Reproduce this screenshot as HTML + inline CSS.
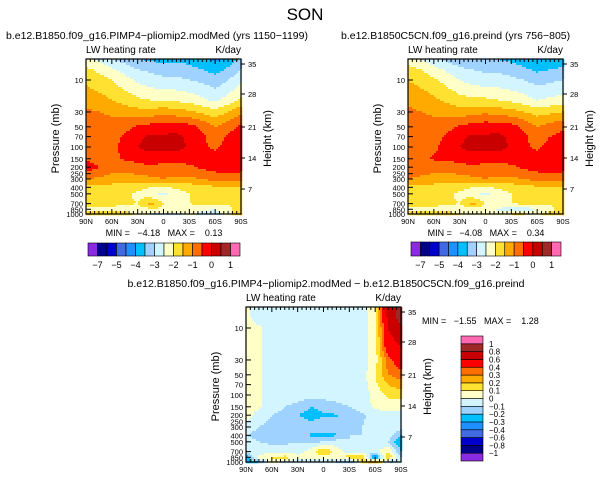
<!DOCTYPE html>
<html><head><meta charset="utf-8"><style>
body{margin:0;background:#fff;width:611px;height:481px;overflow:hidden}
svg{font-family:"Liberation Sans",sans-serif}
</style></head><body>
<svg id="s" width="611" height="481" xmlns="http://www.w3.org/2000/svg">
<text x="305" y="20" font-size="17" text-anchor="middle">SON</text>
</svg>
<script>
const lats=["90N","60N","30N","0","30S","60S","90S"];
const presLevels=[5,7,10,20,30,50,70,100,150,200,300,400,500,700,850,1000];
const pTicks=[10,30,50,70,100,150,200,250,300,400,500,700,850,1000];
const zTicks=[35,28,21,14,7];
const zOff=[5,35,68,99,130];
const levelsAbs=[-7,-6,-5,-4.5,-4,-3.5,-3,-2.5,-2,-1.5,-1,-0.5,0,0.5,1];
const levelsAbsLabels=["-7","","-5","","-4","","-3","","-2","","-1","","0","","1"];
const levelsDiff=[-1,-0.8,-0.6,-0.4,-0.3,-0.2,-0.1,0,0.1,0.2,0.3,0.4,0.6,0.8,1];
const colors=["#8a2be2","#00008b","#0000cd","#4169e1","#1e90ff","#00bfff","#a0d2ff","#d2f5ff","#ffffc8","#ffe132","#ffaa00","#ff6e00","#ff0000","#c80000","#a02828","#ff69b4"];
const fieldA=[
[-2.3,-2.6,-2.9,-3.2,-3.4,-3.6,-3.6,-3.6,-3.7,-3.9,-4.1,-3.8,-3.4],
[-1.9,-2.1,-2.4,-2.7,-3.0,-3.1,-3.2,-3.2,-3.3,-3.5,-3.7,-3.4,-3.0],
[-1.6,-1.8,-2.0,-2.3,-2.6,-2.8,-2.9,-2.9,-3.0,-3.1,-3.3,-3.0,-2.6],
[-1.2,-1.3,-1.5,-1.7,-1.9,-2.0,-2.0,-2.1,-2.2,-2.4,-2.6,-2.3,-1.9],
[-0.9,-1.0,-1.1,-1.2,-1.3,-1.3,-1.2,-1.3,-1.4,-1.6,-1.8,-1.5,-1.1],
[-0.6,-0.7,-0.8,-0.7,-0.4,-0.3,-0.2,-0.2,-0.3,-0.6,-1.0,-0.7,-0.4],
[-0.6,-0.7,-0.7,-0.4,-0.1,0.1,0.05,0.12,-0.1,-0.4,-0.8,-0.4,-0.2],
[-0.6,-0.7,-0.7,-0.3,0.0,0.15,0.1,0.15,-0.05,-0.4,-0.6,-0.3,-0.2],
[-0.6,-0.7,-0.6,-0.45,-0.3,-0.2,-0.3,-0.3,-0.3,-0.3,-0.3,-0.2,-0.2],
[-0.2,-0.5,-0.8,-0.8,-0.7,-0.6,-0.7,-0.7,-0.6,-0.4,-0.3,-0.3,-0.3],
[-1.0,-1.1,-1.2,-1.2,-1.2,-1.1,-1.0,-1.1,-1.1,-1.0,-0.8,-0.7,-0.8],
[-1.6,-1.6,-1.7,-1.8,-1.8,-2.0,-2.1,-1.9,-1.8,-1.7,-1.6,-1.6,-1.6],
[-1.8,-1.8,-1.8,-1.9,-2.1,-2.4,-2.6,-2.3,-2.0,-1.8,-1.8,-1.8,-1.8],
[-1.8,-1.8,-1.8,-1.9,-2.0,-1.3,-2.0,-2.1,-2.0,-1.9,-1.8,-1.9,-1.8],
[-2.2,-2.1,-2.2,-2.3,-2.3,-2.1,-2.1,-2.2,-2.3,-2.4,-2.5,-2.2,-1.6],
[-1.4,-1.8,-1.8,-1.6,-2.3,-2.5,-2.7,-2.6,-2.4,-2.6,-2.8,-2.3,-1.5]];
const fieldB=[
[-2.2,-2.5,-2.8,-3.1,-3.3,-3.5,-3.5,-3.5,-3.6,-3.8,-4.0,-3.9,-3.8],
[-1.8,-2.0,-2.3,-2.6,-2.9,-3.0,-3.1,-3.1,-3.2,-3.4,-3.6,-3.5,-3.4],
[-1.5,-1.7,-1.9,-2.2,-2.5,-2.7,-2.8,-2.8,-2.9,-3.0,-3.2,-3.1,-3.0],
[-1.1,-1.2,-1.4,-1.6,-1.8,-1.9,-1.9,-2.0,-2.1,-2.3,-2.5,-2.4,-2.3],
[-0.9,-1.0,-1.1,-1.2,-1.3,-1.2,-1.1,-1.2,-1.3,-1.5,-1.7,-1.6,-1.5],
[-0.6,-0.7,-0.8,-0.7,-0.4,-0.3,-0.2,-0.2,-0.3,-0.6,-1.0,-0.8,-0.6],
[-0.6,-0.7,-0.7,-0.4,-0.1,0.1,0.05,0.12,-0.1,-0.4,-0.8,-0.5,-0.3],
[-0.6,-0.7,-0.6,-0.3,0.0,0.15,0.1,0.15,-0.05,-0.4,-0.6,-0.3,-0.2],
[-0.6,-0.6,-0.45,-0.4,-0.3,-0.2,-0.3,-0.3,-0.3,-0.3,-0.3,-0.2,-0.2],
[-0.7,-0.7,-0.8,-0.8,-0.7,-0.6,-0.7,-0.7,-0.6,-0.4,-0.3,-0.3,-0.3],
[-1.0,-1.1,-1.2,-1.2,-1.2,-1.1,-1.0,-1.1,-1.1,-1.0,-0.8,-0.7,-0.8],
[-1.6,-1.6,-1.7,-1.8,-1.8,-2.0,-2.1,-1.9,-1.8,-1.7,-1.6,-1.6,-1.6],
[-1.8,-1.8,-1.8,-1.9,-2.1,-2.4,-2.6,-2.3,-2.0,-1.8,-1.8,-1.8,-1.8],
[-1.8,-1.8,-1.8,-1.9,-2.0,-1.3,-2.0,-2.1,-2.0,-1.9,-1.8,-1.9,-1.8],
[-2.1,-2.1,-2.2,-2.3,-2.3,-2.2,-2.4,-2.6,-2.7,-2.8,-2.5,-2.2,-1.6],
[-1.6,-1.8,-1.8,-1.7,-2.0,-2.1,-2.2,-2.1,-2.0,-2.0,-2.1,-1.8,-1.5]];
const fieldD=[
[0.03,-0.05,-0.05,-0.05,-0.05,-0.05,-0.05,-0.05,-0.05,-0.05,0.1,0.7,0.85],
[0.03,-0.05,-0.05,-0.05,-0.05,-0.05,-0.05,-0.05,-0.05,-0.05,0.05,0.65,0.9],
[0.03,0.02,-0.05,-0.05,-0.05,-0.05,-0.05,-0.05,-0.05,-0.05,0.05,0.6,0.75],
[0.05,0.02,-0.05,-0.05,-0.05,-0.05,-0.05,-0.05,-0.05,-0.05,0.05,0.5,0.6],
[0.05,0.02,-0.05,-0.05,-0.05,-0.05,-0.05,-0.05,-0.05,-0.05,0.05,0.35,0.5],
[0.05,0.02,-0.05,-0.05,-0.05,-0.05,-0.05,-0.05,-0.05,-0.05,0.1,0.3,0.35],
[0.05,0.02,-0.05,-0.05,-0.05,-0.05,-0.05,-0.05,-0.05,-0.05,0.08,0.2,0.25],
[0.05,0.02,-0.05,-0.05,-0.05,-0.05,-0.05,-0.05,-0.05,-0.05,0.03,0.12,0.15],
[0.05,0.02,-0.05,-0.1,-0.13,-0.2,-0.18,-0.13,-0.1,-0.05,0.02,0.05,0.03],
[0.05,-0.05,-0.1,-0.13,-0.2,-0.24,-0.21,-0.21,-0.17,-0.12,-0.05,-0.05,-0.05],
[-0.05,-0.1,-0.13,-0.13,-0.1,-0.17,-0.12,-0.17,-0.13,-0.1,-0.05,-0.05,-0.05],
[-0.1,-0.13,-0.13,-0.13,-0.12,-0.21,-0.25,-0.21,-0.1,-0.1,-0.05,-0.05,-0.2],
[-0.05,-0.1,-0.12,-0.12,-0.1,-0.12,-0.1,-0.05,-0.1,-0.05,-0.05,-0.1,-0.3],
[-0.05,-0.05,-0.05,-0.05,-0.05,0.05,0.2,0.05,-0.05,-0.05,-0.05,0.1,-0.2],
[-0.3,0.05,0.1,0.15,0.05,0.05,0.05,0.1,0.15,0.2,-0.4,0.2,-0.1],
[-0.3,-0.2,0.1,-0.05,-0.1,-0.1,-0.05,-0.1,-0.2,0.1,0.3,-0.1,-0.1]];

const svg=document.getElementById('s');
const NS="http://www.w3.org/2000/svg";
function mk(tag,attrs,parent){const e=document.createElementNS(NS,tag);for(const k in attrs)e.setAttribute(k,attrs[k]);(parent||svg).appendChild(e);return e;}
function txt(x,y,s,size,anchor,parent){const t=mk('text',{x:x,y:y,'font-size':size,'text-anchor':anchor||'start'},parent);t.textContent=s;return t;}

function plot(px,py,field,levels,name){
  const W=155,H=155;
  const g=mk('g',{});
  
  
  const decade=67;
  const yOf=p=>py+H-(3-Math.log10(p))*decade;
  const topLog=3-H/decade;
  const logs=presLevels.map(p=>Math.log10(p));
  const step=2;
  for(let yy=0;yy<H;yy+=step){
    const lp=topLog+(yy+step/2)/decade;
    let r=0;while(r<logs.length-2&&logs[r+1]<lp)r++;
    let fr=(lp-logs[r])/(logs[r+1]-logs[r]);fr=Math.max(0,Math.min(1,fr));
    for(let xx=0;xx<W;xx+=step){
      const lat=(xx+step/2)/W*180;
      let c=Math.min(11,Math.floor(lat/15));const fc=(lat-c*15)/15;
      const v=(field[r][c]*(1-fc)+field[r][c+1]*fc)*(1-fr)+(field[r+1][c]*(1-fc)+field[r+1][c+1]*fc)*fr;
      let k=0;while(k<levels.length&&v>=levels[k])k++;
      const cell=mk('rect',{x:px+xx,y:py+yy,width:step+0.3,height:step+0.3,fill:colors[k]},g);
      
      
    }
  }
  mk('rect',{x:px,y:py,width:W,height:H,fill:'none',stroke:'#000','stroke-width':1.2},g);
  for(let i=0;i<=36;i++){
    const x=px+i*W/36,major=i%6==0;
    mk('line',{x1:x,y1:py,x2:x,y2:py+(major?5:3),stroke:'#000'},g);
    mk('line',{x1:x,y1:py+H,x2:x,y2:py+H-(major?5:3),stroke:'#000'},g);
  }
  lats.forEach((l,i)=>{const t=txt(px+i*W/6,py+H+10,l,7.5,'middle',g);});
  pTicks.forEach(p=>{const y=yOf(p);mk('line',{x1:px,y1:y,x2:px+5,y2:y,stroke:'#000'},g);
    const t=txt(px-3,y+3,String(p),7.5,'end',g);});
  zTicks.forEach((z,i)=>{const y=py+zOff[i];mk('line',{x1:px+W,y1:y,x2:px+W+4,y2:y,stroke:'#000'},g);
    const t=txt(px+W+7,y+3,String(z),7.5,'start',g);});
  const yl=txt(0,0,'Pressure (mb)',11,'middle',g);yl.setAttribute('transform',`translate(${px-27},${py+H/2+2}) rotate(-90)`);
  
  const yr=txt(0,0,'Height (km)',11,'middle',g);yr.setAttribute('transform',`translate(${px+W+30},${py+H/2+2}) rotate(-90)`);
  
  const a=txt(px,py-6,'LW heating rate',10,'start',g);
  const b=txt(px+W,py-6,'K/day',10,'end',g);
}
function hbar(x,y,w,h,levels,labels,name){
  const g=mk('g',{});
  const bw=w/colors.length;
  colors.forEach((c,i)=>{const r=mk('rect',{x:x+i*bw,y:y,width:bw,height:h,fill:c,stroke:'#000','stroke-width':0.6},g);
    });
  labels.forEach((l,i)=>{if(l){const t=txt(x+(i+1)*bw,y+h+12,l.replace('-','−'),9,'middle',g);}});
}
function vbar(x,y,w,h,levels,name){
  const g=mk('g',{});
  const bh=h/colors.length;
  colors.forEach((c,i)=>{const r=mk('rect',{x:x,y:y+h-(i+1)*bh,width:w,height:bh,fill:c,stroke:'#000','stroke-width':0.6},g);
    });
  levels.forEach((l,i)=>{const t=txt(x+w+6,y+h-(i+1)*bh+3,String(l).replace('-','−'),8,'start',g);});
}
plot(86,59,fieldA,levelsAbs,'plot-pliomip2');
plot(408,59,fieldB,levelsAbs,'plot-preind');
plot(246,307,fieldD,levelsDiff,'plot-difference');
let t;
t=txt(6,39,'b.e12.B1850.f09_g16.PIMP4−pliomip2.modMed (yrs 1150−1199)',10.5);
t=txt(341,39,'b.e12.B1850C5CN.f09_g16.preind (yrs 756−805)',10.5);
t=txt(326,287,'b.e12.B1850.f09_g16.PIMP4−pliomip2.modMed − b.e12.B1850C5CN.f09_g16.preind',10.5,'middle');
t=txt(164,236,'MIN =   −4.18   MAX =    0.13',9,'middle');t.style.whiteSpace='pre';
t=txt(486,236,'MIN =   −4.08   MAX =    0.34',9,'middle');t.style.whiteSpace='pre';
t=txt(422,324,'MIN =   −1.55   MAX =    1.28',9,'start');t.style.whiteSpace='pre';
hbar(88,243,152,13,levelsAbs,levelsAbsLabels,'left-colorbar');
hbar(411,242,150,14,levelsAbs,levelsAbsLabels,'right-colorbar');
vbar(461,336,22,125,levelsDiff,'difference-colorbar');
</script>
</body></html>
